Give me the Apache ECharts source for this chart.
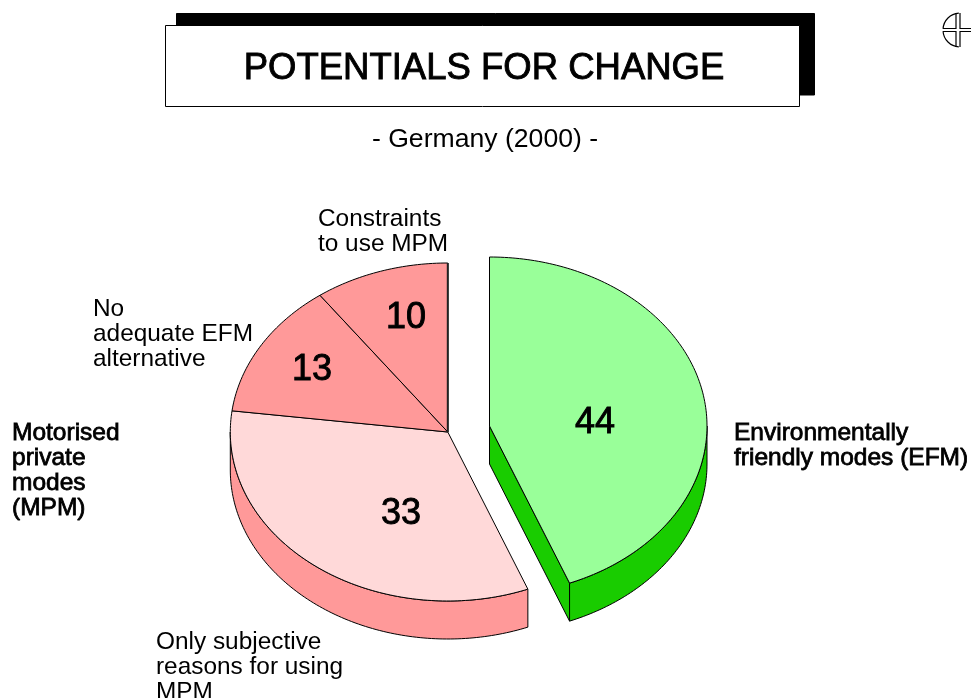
<!DOCTYPE html>
<html>
<head>
<meta charset="utf-8">
<style>html,body{margin:0;padding:0;background:#fff}#c{width:971px;height:698px}</style>
<script src="https://cdn.jsdelivr.net/npm/echarts@6/dist/echarts.min.js"></script>
</head>
<body>
<div id="c"></div>
<script>
const titleText = 'POTENTIALS FOR CHANGE';
const subtitleText = '- Germany (2000) -';
const sliceNames = ['Environmentally friendly modes', 'Only subjective reasons for using MPM', 'No adequate EFM alternative', 'Constraints to use MPM'];
const sliceValues = [44, 33, 13, 10];

// Presentation only
const topColors = ['#99ff99', '#ffd9d9', '#ff9999', '#ff9999'];
const sideColors = ['#19cc00', '#ff9999', '#ff9999', '#ff9999'];
const pieCentres = [[489.5, 426], [447.8, 432], [447.8, 432], [447.8, 432]];
const labelSpots = [[595, 423], [401, 514], [312, 370], [406, 318]];
const RX = 217.5, RY = 169, DEPTH = 38;
const FF = '"Liberation Sans", Arial, Helvetica, sans-serif';

const total = sliceValues.reduce((a, b) => a + b, 0);
const startFr = [];
sliceValues.reduce((acc, v, i) => { startFr[i] = acc; return acc + v; }, 0);

function rim(c, deg, dy) {
  const t = deg * Math.PI / 180;
  return [c[0] + RX * Math.sin(t), c[1] - RY * Math.cos(t) + (dy || 0)];
}
function arcPts(c, a, b, dy) {
  const pts = [], n = Math.max(2, Math.ceil(Math.abs(b - a)));
  for (let i = 0; i <= n; i++) pts.push(rim(c, a + (b - a) * i / n, dy));
  return pts;
}
const stroke = { stroke: '#000', lineWidth: 1, lineJoin: 'round' };

function renderSides(params, api) {
  const i = params.dataIndex, c = pieCentres[i];
  const a0 = startFr[i] / total * 360, a1 = (startFr[i] + api.value(0)) / total * 360;
  const kids = [];
  const lo = Math.max(a0, 90), hi = Math.min(a1, 270);
  if (hi > lo) {
    if (i === 0) {
      const p = rim(c, a1);
      kids.push({ type: 'polygon', shape: { points: [c, p, [p[0], p[1] + DEPTH], [c[0], c[1] + DEPTH]] },
        style: Object.assign({ fill: sideColors[i] }, stroke) });
    }
    const pts = arcPts(c, lo, hi, 0).concat(arcPts(c, hi, lo, DEPTH));
    kids.push({ type: 'polygon', shape: { points: pts }, style: Object.assign({ fill: sideColors[i] }, stroke) });
  }
  return { type: 'group', children: kids };
}
function renderTops(params, api) {
  const i = params.dataIndex, c = pieCentres[i], v = api.value(0);
  const a0 = startFr[i] / total * 360, a1 = (startFr[i] + v) / total * 360;
  const kids = [
    { type: 'polygon', shape: { points: [c].concat(arcPts(c, a0, a1, 0)) },
      style: Object.assign({ fill: topColors[i] }, stroke) },
    { type: 'text', z2: 5, x: labelSpots[i][0], y: labelSpots[i][1],
      style: { text: String(v), fill: '#000', font: '36px ' + FF, align: 'center', verticalAlign: 'middle', stroke: '#000', lineWidth: 0.9 } }
  ];
  if (i === sliceValues.length - 1) {
    const e = rim(c, 360);
    kids.push({ type: 'line', z2: 4, shape: { x1: c[0], y1: c[1], x2: e[0], y2: e[1] }, style: { stroke: '#222', lineWidth: 2 } });
  }
  return { type: 'group', children: kids };
}
function txt(text, x, y, size, bold, align) {
  return { type: 'text', x: x, y: y, z: 10,
    style: { text: text, fill: '#000', font: size + 'px ' + FF, lineHeight: 25, align: align || 'left', verticalAlign: 'top',
      stroke: bold ? '#000' : null, lineWidth: bold ? 0.8 : 0 } };
}
const logoStyle = { stroke: '#000', lineWidth: 1.2, fill: null };
function logoLine(points) { return { type: 'polyline', z: 5, shape: { points: points }, style: logoStyle }; }
function logoArc(a, b) { return { type: 'arc', z: 5, shape: { cx: 960, cy: 30, r: 17, startAngle: a, endAngle: b, clockwise: true }, style: logoStyle }; }
const D = Math.PI / 180;
const chart = echarts.init(document.getElementById('c'));
chart.setOption({
  animation: false,
  backgroundColor: '#fff',
  graphic: [
    { type: 'rect', z: 1, shape: { x: 176.5, y: 13.5, width: 638, height: 81.5 }, style: { fill: '#000', stroke: '#000' } },
    { type: 'rect', z: 2, shape: { x: 165.5, y: 25.5, width: 634, height: 81 }, style: { fill: '#fff', stroke: '#000', lineWidth: 1 } },
    { type: 'text', z: 3, x: 484, y: 69, style: { text: titleText, fill: '#000', font: '36.5px ' + FF, align: 'center', verticalAlign: 'middle', stroke: '#000', lineWidth: 0.9 } },
    { type: 'text', z: 3, x: 485, y: 140, style: { text: subtitleText, fill: '#000', font: '26.6px ' + FF, align: 'center', verticalAlign: 'middle' } },
    txt('Constraints\nto use MPM', 318, 207, 24.4),
    txt('No\nadequate EFM\nalternative', 93, 297, 24.4),
    txt('Only subjective\nreasons for using\nMPM', 156, 630, 24.4),
    txt('Motorised\nprivate\nmodes\n(MPM)', 12, 421, 24.5, true),
    txt('Environmentally\nfriendly modes (EFM)', 734, 421, 24.5, true),
    logoArc(184 * D, 266 * D), logoArc(94 * D, 176 * D),
    logoLine([[956, 13], [956, 28.5], [943, 28.5]]),
    logoLine([[956, 47], [956, 31.5], [943, 31.5]]),
    logoLine([[960, 13], [960, 28.5], [971, 28.5]]),
    logoLine([[960, 47], [960, 31.5], [971, 31.5]])
  ],
  series: [
    { type: 'custom', coordinateSystem: 'none', z: 2, silent: true, renderItem: renderSides, data: sliceValues.map((v, i) => ({ name: sliceNames[i], value: [v] })) },
    { type: 'custom', coordinateSystem: 'none', z: 3, silent: true, renderItem: renderTops, data: sliceValues.map((v, i) => ({ name: sliceNames[i], value: [v] })) }
  ]
});
</script>
</body>
</html>
